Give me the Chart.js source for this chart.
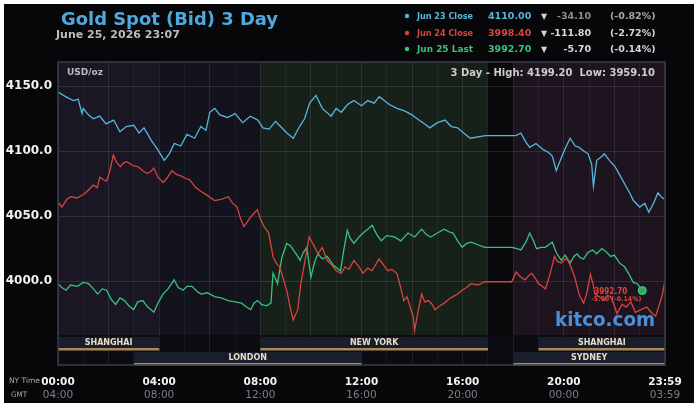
<!DOCTYPE html>
<html>
<head>
<meta charset="utf-8">
<title>Gold Spot (Bid) 3 Day</title>
<script src="https://cdn.jsdelivr.net/npm/chart.js@4.4.1/dist/chart.umd.min.js"></script>
<style>
  html, body { margin: 0; padding: 0; background: #fff; }
  canvas { display: block; }
</style>
</head>
<body>
<canvas id="goldChart" width="700" height="407"></canvas>
<script>
// Hours are NY time (0 = 00:00, 24 = 23:59), prices in USD/oz
const blueHours = [0, 0.3, 0.6, 0.8, 0.95, 1.0, 1.2, 1.4, 1.65, 1.9, 2.2, 2.45, 2.7, 3.0, 3.2, 3.4, 3.7, 3.95,
  4.2, 4.4, 4.6, 4.85, 5.1, 5.4, 5.65, 5.85, 6.0, 6.2, 6.4, 6.7, 7.0, 7.3, 7.6, 7.9,
  8.1, 8.35, 8.6, 8.8, 9.05, 9.3, 9.55, 9.75, 9.95, 10.2, 10.45, 10.8, 11.0, 11.2, 11.45, 11.7,
  12.0, 12.25, 12.5, 12.7, 12.9, 13.1, 13.4, 13.7, 14.0, 14.2, 14.5, 14.7, 15.0, 15.3, 15.55, 15.8,
  16.1, 16.3, 16.9, 17.4, 18.1, 18.3, 18.5, 18.65, 18.9, 19.2, 19.4, 19.55, 19.7, 19.9,
  20.1, 20.25, 20.45, 20.6, 20.8, 20.96, 21.1, 21.17, 21.3, 21.5, 21.6, 21.8, 22.03, 22.2, 22.4, 22.6, 22.75,
  23.0, 23.2, 23.36, 23.55, 23.72, 23.85, 23.98];
const blueValues = [4145.6, 4142, 4139, 4140, 4129, 4133, 4128, 4125, 4127, 4121, 4124, 4115, 4119, 4120, 4114, 4118, 4108, 4101,
  4093, 4098, 4106, 4104, 4113, 4110, 4119, 4116, 4130, 4133, 4128, 4126, 4129, 4122, 4127, 4124,
  4118, 4117, 4123, 4119, 4114, 4110, 4119, 4125, 4137, 4143, 4133, 4127, 4133, 4130, 4136, 4139,
  4135, 4139, 4137, 4142, 4139, 4136, 4133, 4131, 4128, 4125, 4121, 4118, 4122, 4124, 4119, 4118,
  4113, 4110, 4112, 4112, 4112, 4114, 4107, 4103, 4106, 4101, 4099, 4096, 4085, 4095,
  4104, 4110, 4104, 4103, 4100, 4098, 4090, 4073, 4093, 4096, 4098, 4093, 4088, 4082, 4075, 4068, 4062,
  4057, 4060, 4053, 4060, 4068, 4065, 4063];

const redHours = [0, 0.15, 0.35, 0.5, 0.75, 1.03, 1.2, 1.39, 1.55, 1.65, 1.8, 1.92, 2.05, 2.19, 2.3, 2.46, 2.6, 2.72, 2.95,
  3.17, 3.35, 3.52, 3.65, 3.79, 3.95, 4.15, 4.3, 4.5, 4.7, 4.86, 5.05, 5.2, 5.45, 5.66, 5.9,
  6.19, 6.45, 6.73, 6.9, 7.08, 7.22, 7.35, 7.5, 7.6, 7.88, 8.0, 8.15, 8.33, 8.5, 8.62, 8.77,
  9.04, 9.2, 9.3, 9.48, 9.6, 9.75, 9.93, 10.1, 10.28, 10.45, 10.64, 10.8, 11.0, 11.2, 11.35, 11.5, 11.7, 11.9,
  12.06, 12.25, 12.42, 12.69, 12.85, 13.04, 13.2, 13.4, 13.55, 13.67, 13.8, 13.93, 14.05, 14.1, 14.25, 14.38,
  14.5, 14.64, 14.8, 14.9, 15.1, 15.27, 15.45, 15.62, 15.8, 15.98, 16.15, 16.33, 16.6, 16.87, 17.4, 17.94,
  18.11, 18.3, 18.47, 18.6, 18.73, 18.88, 19.0, 19.15, 19.27, 19.45, 19.63, 19.75, 19.9, 20.05, 20.16, 20.3, 20.43,
  20.6, 20.78, 20.9, 21.05, 21.15, 21.23, 21.4, 21.58, 21.72, 21.85, 22.0, 22.1, 22.3, 22.47, 22.65, 22.83,
  23.05, 23.28, 23.45, 23.63, 23.78, 23.9, 23.98];
const redValues = [4061, 4057, 4063, 4065, 4064, 4067, 4070, 4074, 4072, 4080, 4078, 4077, 4085, 4097, 4092, 4088, 4091, 4092, 4089,
  4088, 4085, 4083, 4084, 4087, 4080, 4076, 4079, 4085, 4082, 4081, 4079, 4078, 4072, 4069, 4066,
  4062, 4063, 4065, 4060, 4057, 4048, 4042, 4046, 4049, 4055, 4048, 4042, 4037, 4019, 4014, 4011,
  3993, 3978, 3970, 3978, 3998, 4014, 4034, 4028, 4021, 4026, 4016, 4013, 4008, 4006, 4011, 4009, 4016, 4011,
  4006, 4010, 4008, 4017, 4013, 4008, 4009, 4006, 3995, 3985, 3988, 3980, 3972, 3962, 3978, 3990,
  3984, 3985, 3982, 3978, 3981, 3983, 3986, 3988, 3990, 3993, 3995, 3998, 3997, 3999.5, 3999.5, 3999.5,
  4007, 4003, 4001, 4004, 4006, 4002, 3998, 3996, 3994, 4005, 4019, 4015, 4014, 4017, 4016, 4010, 4003,
  3990, 3983, 3990, 4005, 3998, 3990, 3988, 3985, 3989, 3988, 3981, 3975, 3982, 3980, 3984, 3976,
  3978, 3980, 3976, 3973, 3982, 3990, 3998.4];

const greenHours = [0, 0.15, 0.32, 0.5, 0.77, 1.0, 1.21, 1.4, 1.57, 1.75, 1.92, 2.1, 2.28, 2.45, 2.63, 2.8, 2.99,
  3.15, 3.35, 3.55, 3.79, 3.95, 4.15, 4.35, 4.59, 4.75, 4.95, 5.1, 5.3, 5.5, 5.66, 5.9,
  6.19, 6.45, 6.73, 7.0, 7.26, 7.45, 7.62, 7.75, 7.88, 8.05, 8.24, 8.42, 8.5, 8.6, 8.68, 8.85,
  9.04, 9.2, 9.3, 9.45, 9.57, 9.7, 9.84, 9.92, 10.0, 10.15, 10.28, 10.45, 10.64, 10.9, 11.17, 11.3, 11.44, 11.55, 11.7, 11.9,
  12.06, 12.25, 12.42, 12.6, 12.78, 13.0, 13.3, 13.55, 13.84, 14.1, 14.38, 14.55, 14.73, 15.0, 15.27, 15.45, 15.62, 15.8, 15.98,
  16.15, 16.33, 16.6, 16.87, 17.4, 17.94, 18.15, 18.3, 18.5, 18.65, 18.8, 18.92, 19.1, 19.27, 19.4, 19.54, 19.7, 19.9,
  20.05, 20.25, 20.4, 20.52, 20.65, 20.78, 20.95, 21.14, 21.3, 21.5, 21.65, 21.85,
  22.0, 22.2, 22.4, 22.56, 22.74, 22.9, 23.1];
const greenValues = [3998, 3995, 3993, 3997, 3996, 3999, 3998, 3994, 3990, 3994, 3993, 3986, 3982, 3987, 3985, 3981, 3978,
  3984, 3985, 3980, 3976, 3983, 3990, 3994, 4001, 3995, 3993, 3996, 3996, 3992, 3990, 3991,
  3988, 3987, 3985, 3984, 3983, 3980, 3978, 3983, 3985, 3982, 3981, 3983, 4006, 4002, 3998, 4018,
  4029, 4027, 4024, 4020, 4016, 4022, 4026, 4014, 4003, 4015, 4021, 4017, 4019, 4012, 4008, 4024, 4039, 4033, 4029, 4034,
  4037, 4040, 4043, 4036, 4031, 4035, 4034, 4031, 4037, 4034, 4040, 4036, 4034, 4037, 4040, 4038, 4037, 4031, 4026,
  4029, 4030, 4028, 4026, 4026, 4026, 4025, 4024, 4030, 4037, 4031, 4025, 4026, 4026, 4028, 4030, 4022, 4016,
  4020, 4014, 4019, 4021, 4018, 4017, 4022, 4024, 4021, 4025, 4023, 4019,
  4020, 4014, 4011, 4006, 3999, 3998, 3992.7];

const tickHours = [0, 4, 8, 12, 16, 20, 24];
const nyTickLabels = ['00:00', '04:00', '08:00', '12:00', '16:00', '20:00', '23:59'];
const gmtTickLabels = ['04:00', '08:00', '12:00', '16:00', '20:00', '00:00', '03:59'];
const yTicks = [4000, 4050, 4100, 4150];

const legendNames = ['Jun 23 Close', 'Jun 24 Close', 'Jun 25 Last'];
const legendValues = ['4110.00', '3998.40', '3992.70'];
const legendChanges = ['-34.10', '-111.80', '-5.70'];
const legendPercents = ['(-0.82%)', '(-2.72%)', '(-0.14%)'];

const sessionNames = ['SHANGHAI', 'NEW YORK', 'SHANGHAI', 'LONDON', 'SYDNEY'];
const sessionStart = [0, 8, 19, 3, 18];
const sessionEnd = [4, 17, 24, 12, 24];
const sessionRow = [0, 0, 0, 1, 1];

const zoneStart = [0, 4, 8, 17, 18];
const zoneEnd = [4, 8, 17, 18, 24];

const lineColors = ['#58b6da', '#d8443e', '#38c27c'];
const zoneColors = ['#1b1624', '#12131d', '#17211a', '#0a0a0d', '#1e1420'];
const FONT = 'DejaVu Sans';

function toPoints(hours, values) {
  return hours.map((h, i) => ({ x: h, y: values[i] }));
}

function txt(ctx, s, x, y, size, color, align, maxW, weight) {
  ctx.font = (weight || 'bold') + ' ' + size + 'px "' + FONT + '"';
  ctx.fillStyle = color;
  ctx.textAlign = align || 'left';
  ctx.textBaseline = 'middle';
  if (maxW) ctx.fillText(s, x, y, maxW);
  else ctx.fillText(s, x, y);
}

// backgrounds, session bars, titles and other kitco decorations
const kitcoPlugin = {
  id: 'kitco',
  beforeDraw(chart) {
    const ctx = chart.ctx;
    const { left, right, top, bottom } = chart.chartArea;
    const x = chart.scales.x;
    const sessTop = bottom - 30;
    ctx.save();
    ctx.fillStyle = '#ffffff';
    ctx.fillRect(0, 0, chart.width, chart.height);
    ctx.fillStyle = '#07070a';
    ctx.fillRect(4, 4, 690, 399);
    zoneStart.forEach((z, i) => {
      const x0 = x.getPixelForValue(z), x1 = x.getPixelForValue(zoneEnd[i]);
      ctx.fillStyle = zoneColors[i];
      ctx.fillRect(x0, top, x1 - x0, sessTop - top);
    });
    ctx.fillStyle = '#0b0c12';
    ctx.fillRect(left, sessTop, right - left, bottom - sessTop);
    ctx.restore();
  },
  afterDraw(chart) {
    const ctx = chart.ctx;
    const { left, right, top, bottom } = chart.chartArea;
    const x = chart.scales.x;
    const sessTop = bottom - 30;
    ctx.save();

    // session bars
    sessionNames.forEach((name, i) => {
      const x0 = x.getPixelForValue(sessionStart[i]), x1 = x.getPixelForValue(sessionEnd[i]);
      const y0 = sessTop + 2 + sessionRow[i] * 15;
      ctx.fillStyle = '#1a1d2c';
      ctx.fillRect(x0, y0, x1 - x0, 12);
      ctx.fillStyle = '#a98b57';
      ctx.fillRect(x0, y0 + 11, x1 - x0, 2.5);
      txt(ctx, name, (x0 + x1) / 2, y0 + 6, 8, '#e6dcc6', 'center');
    });

    // plot frame
    ctx.strokeStyle = '#3a3d4a';
    ctx.lineWidth = 1.5;
    ctx.strokeRect(left, top, right - left, bottom - top);

    // titles
    txt(ctx, 'Gold Spot (Bid) 3 Day', 61, 20, 18, '#4fa9dc', 'left', 217);
    txt(ctx, 'June 25, 2026 23:07', 56, 35, 11, '#bdbdbd', 'left', 127);

    // legend block
    const rowsY = [17, 34, 50];
    legendNames.forEach((n, i) => {
      const y = rowsY[i];
      ctx.fillStyle = lineColors[i];
      ctx.beginPath();
      ctx.arc(407, y - 1, 2.2, 0, Math.PI * 2);
      ctx.fill();
      txt(ctx, n, 417, y, 9.5, lineColors[i], 'left', 56);
      txt(ctx, legendValues[i], 488, y, 9.5, lineColors[i], 'left', 46);
      txt(ctx, '\u25BC', 544, y, 8, '#d0d0d0', 'center');
      txt(ctx, legendChanges[i], 591, y, 9.5, i === 0 ? '#8e8e8e' : '#dadada', 'right');
      txt(ctx, legendPercents[i], 610, y, 9.5, i === 0 ? '#a8a8a8' : '#d6d6d6', 'left', 47);
    });

    // in-plot captions
    txt(ctx, 'USD/oz', 67, 73, 9, '#bcbcbc', 'left', 37);
    txt(ctx, '3 Day - High: 4199.20  Low: 3959.10', 655, 73, 10, '#cccccc', 'right', 206);
    txt(ctx, 'kitco.com', 555, 321, 19, '#4a8fda', 'left', 100);

    // last value tag next to the green dot
    const gMeta = chart.getDatasetMeta(2);
    const last = gMeta.data[gMeta.data.length - 1];
    txt(ctx, legendValues[2], last.x - 15, last.y + 1, 8, '#e0463f', 'right', 33);
    txt(ctx, legendChanges[2] + ' ' + legendPercents[2], last.x - 1, last.y + 9, 6.5, '#e0463f', 'right', 50);

    // axis captions
    txt(ctx, 'NY Time', 9, 381, 7.5, '#a8a8a8', 'left', 31, 'normal');
    txt(ctx, 'GMT', 11, 395, 7.5, '#a8a8a8', 'left', 16, 'normal');
    ctx.restore();
  }
};

Chart.defaults.font.family = FONT;

const ctx = document.getElementById('goldChart').getContext('2d');
const lastGreen = greenHours.length - 1;

new Chart(ctx, {
  type: 'line',
  data: {
    datasets: [
      { label: 'Jun 23', data: toPoints(blueHours, blueValues), borderColor: lineColors[0], borderWidth: 1.3, pointRadius: 0, tension: 0 },
      { label: 'Jun 24', data: toPoints(redHours, redValues), borderColor: lineColors[1], borderWidth: 1.3, pointRadius: 0, tension: 0 },
      {
        label: 'Jun 25', data: toPoints(greenHours, greenValues), borderColor: lineColors[2], borderWidth: 1.3, tension: 0,
        pointRadius: c => (c.dataIndex === lastGreen ? 4 : 0),
        pointBackgroundColor: '#2fa866', pointBorderColor: '#3fdc8a', pointBorderWidth: 1
      }
    ]
  },
  options: {
    responsive: false,
    animation: false,
    layout: { padding: { left: 6, right: 35, top: 62, bottom: 4 } },
    plugins: { legend: { display: false }, tooltip: { enabled: false } },
    scales: {
      x: {
        type: 'linear', position: 'bottom', min: 0, max: 24, weight: 0,
        afterFit(s) { s.height = 24; },
        afterBuildTicks(s) {
          const t = [];
          for (let h = 0; h <= 24; h++) t.push({ value: h });
          s.ticks = t;
        },
        ticks: {
          autoSkip: false, maxRotation: 0, padding: 11, color: '#f2f2f2',
          font: { weight: 'bold', size: 10.5 },
          callback: v => { const k = tickHours.indexOf(v); return k >= 0 ? nyTickLabels[k] : ''; }
        },
        grid: {
          drawTicks: false,
          color: c => (c.tick && c.tick.value % 2 === 0 ? 'rgba(255,255,255,0.09)' : 'rgba(255,255,255,0.045)')
        },
        border: { display: false }
      },
      x2: {
        type: 'linear', position: 'bottom', min: 0, max: 24, weight: 1,
        afterFit(s) { s.height = 14; },
        afterBuildTicks(s) { s.ticks = tickHours.map(v => ({ value: v })); },
        ticks: {
          autoSkip: false, maxRotation: 0, padding: 0, color: '#7e7e86',
          font: { size: 10.5 },
          callback: (v, i) => gmtTickLabels[i]
        },
        grid: { display: false, drawTicks: false },
        border: { display: false }
      },
      y: {
        min: 3935.4, max: 4168.7,
        afterFit(s) { s.width = 52; },
        afterBuildTicks(s) { s.ticks = yTicks.map(v => ({ value: v })); },
        ticks: {
          padding: 6, color: '#f2f2f2',
          font: { weight: 'bold', size: 12 },
          callback: v => v.toFixed(1)
        },
        grid: { drawTicks: false, color: 'rgba(255,255,255,0.10)' },
        border: { display: false }
      }
    }
  },
  plugins: [kitcoPlugin]
});
</script>
</body>
</html>
